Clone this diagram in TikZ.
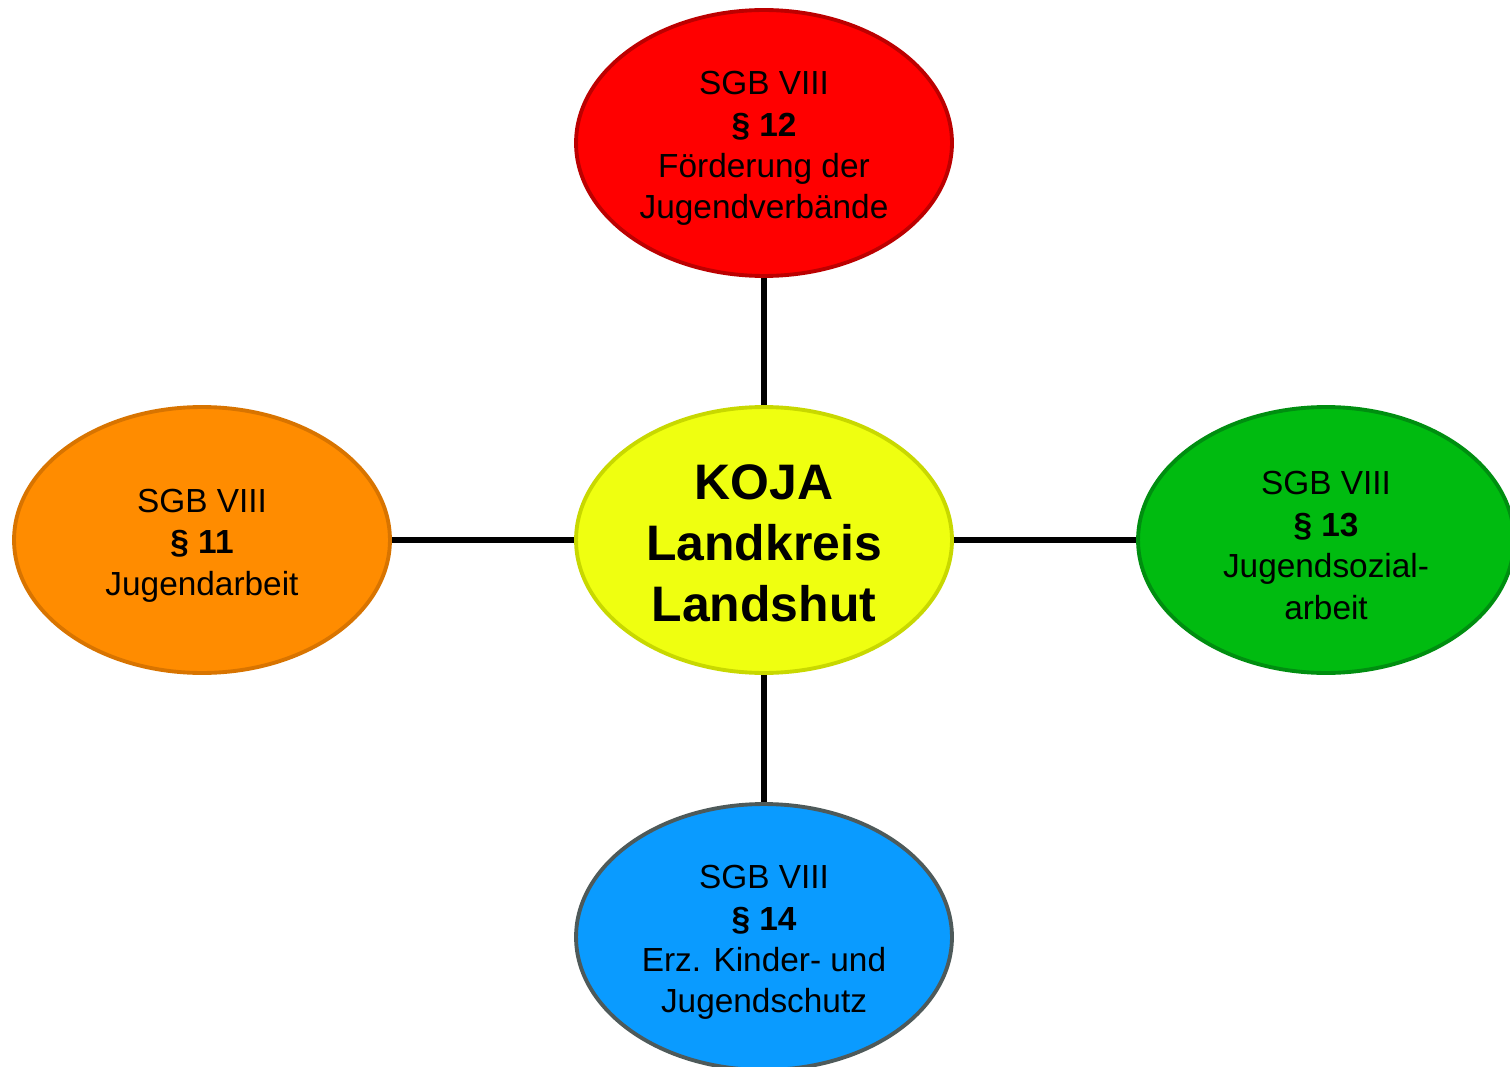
\documentclass[tikz,border=0pt]{standalone}
\usepackage{fontspec}
\setmainfont{Liberation Sans}
\usepackage{xcolor}
\usetikzlibrary{shapes.geometric}
\definecolor{kojared}{HTML}{FF0000}
\definecolor{kojaredline}{HTML}{BC0000}
\definecolor{kojayellow}{HTML}{EFFF10}
\definecolor{kojayellowline}{HTML}{C8D800}
\definecolor{kojaorange}{HTML}{FF8C00}
\definecolor{kojaorangeline}{HTML}{D87400}
\definecolor{kojagreen}{HTML}{00BB10}
\definecolor{kojagreenline}{HTML}{008E10}
\definecolor{kojablue}{HTML}{0A9BFF}
\definecolor{kojablueline}{HTML}{4E5A5A}
\newcommand{\toppad}[1]{\rule{0pt}{#1}}

\begin{document}
\begin{tikzpicture}[
            x=0.02cm, y=-0.02cm,
            bubble/.style={draw, ellipse, line width=2.2pt, inner sep=0pt,
                minimum width=7.52cm, minimum height=5.32cm, align=center,
                font=\fontsize{19}{23.6}\selectfont},
            link/.style={draw, black, line width=2.9pt},
        ]
            \useasboundingbox (0,0) rectangle (1510,1067);
            \node [bubble, fill=kojayellow, draw=kojayellowline,
                font=\fontsize{28.4}{34.7}\selectfont\bfseries] (koja) at (764,540)
                {\toppad{23.8pt}KOJA\\Landkreis\\Landshut};
            \node [bubble, fill=kojared, draw=kojaredline] (p12) at (764,143)
                {\toppad{19.6pt}SGB VIII\\\textbf{\S\ 12}\\F\"orderung der\\Jugendverb\"ande};
            \node [bubble, fill=kojaorange, draw=kojaorangeline] (p11) at (202,540)
                {\toppad{19.6pt}SGB VIII\\\textbf{\S\ 11}\\Jugendarbeit};
            \node [bubble, fill=kojagreen, draw=kojagreenline] (p13) at (1326,540)
                {\toppad{19.6pt}SGB VIII\\\textbf{\S\ 13}\\Jugendsozial-\\arbeit};
            \node [bubble, fill=kojablue, draw=kojablueline] (p14) at (764,937)
                {\toppad{19.6pt}SGB VIII\\\textbf{\S\ 14}\\Erz. Kinder- und\\ Jugendschutz};
            \draw [link] (koja) -- (p12);
            \draw [link] (koja) -- (p11);
            \draw [link] (koja) -- (p13);
            \draw [link] (koja) -- (p14);
        \end{tikzpicture}
\end{document}
